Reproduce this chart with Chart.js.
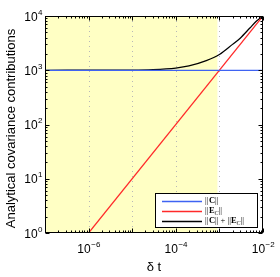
<!DOCTYPE html>
<html>
<head>
<meta charset="utf-8">
<script src="https://cdn.jsdelivr.net/npm/chart.js@4"></script>
<style>
  html, body { margin: 0; padding: 0; background: #fff; }
  #wrap { width: 280px; height: 277px; position: relative; }
</style>
</head>
<body>
<div id="wrap"><canvas id="cov"></canvas></div>
<script>
// values
const normC_dt = [1e-7, 1e-2];
const normC = [1000, 1000];

const normE_dt = [1e-6, 1e-2];
const normE = [1, 10000];

const sum_dt = [1e-7, 1e-5, 3e-5, 1e-4, 2e-4, 5e-4, 1e-3, 2e-3, 3e-3, 5e-3, 7e-3, 1e-2];
const sumCE = [1000, 1010, 1030, 1100, 1200, 1500, 1950, 3000, 3900, 6000, 8000, 10000];

const stableRange = [1e-7, 9e-4];   // shaded band
const xTickExps = [-6, -4, -2];
const yTickExps = [0, 1, 2, 3, 4];
const xGridExps = [-6, -5, -4, -3];

const toPts = (xs, ys) => xs.map((x, i) => ({ x: x, y: ys[i] }));

const FONT = "'Liberation Sans', Arial, sans-serif";
const SERIF = "'Liberation Serif', 'Times New Roman', serif";

// draws 10^n with a raised exponent
function drawPow(ctx, exp, x, y, align) {
    const base = '10', sup = String(exp).replace('-', '\u2212');
    ctx.font = '12px ' + FONT;
    const wb = ctx.measureText(base).width;
    ctx.font = '8px ' + FONT;
    const ws = ctx.measureText(sup).width;
    let left = align === 'right' ? x - wb - ws : x - (wb + ws) / 2;
    ctx.textAlign = 'left';
    ctx.textBaseline = 'alphabetic';
    ctx.font = '12px ' + FONT;
    ctx.fillText(base, left, y);
    ctx.font = '8px ' + FONT;
    ctx.fillText(sup, left + wb + 0.5, y - 6);
}

// pieces: [text, style] where style is '', 'b', 'sub'
function drawRich(ctx, pieces, x, y) {
    ctx.textAlign = 'left';
    ctx.textBaseline = 'middle';
    pieces.forEach(p => {
        const t = p[0], s = p[1];
        if (s === 'b') ctx.font = 'bold 8.5px ' + SERIF;
        else if (s === 'sub') ctx.font = 'italic 6px ' + SERIF;
        else ctx.font = '8.5px ' + SERIF;
        ctx.fillText(t, x, s === 'sub' ? y + 2 : y);
        x += ctx.measureText(t).width + (t === '||' ? 0.5 : 0);
    });
}

const decor = {
    id: 'decor',
    beforeDatasetsDraw(chart) {
        const { ctx, chartArea: a, scales: { x, y } } = chart;
        ctx.save();
        // shaded band
        ctx.fillStyle = '#ffffc4';
        const x0 = x.getPixelForValue(stableRange[0]);
        const x1 = x.getPixelForValue(stableRange[1]);
        ctx.fillRect(x0, a.top, x1 - x0, a.bottom - a.top);
        // dotted vertical grid
        ctx.strokeStyle = '#b8b8b8';
        ctx.lineWidth = 1;
        ctx.setLineDash([1, 4]);
        xGridExps.forEach(e => {
            const px = Math.round(x.getPixelForValue(Math.pow(10, e))) + 0.5;
            ctx.beginPath();
            ctx.moveTo(px, a.top);
            ctx.lineTo(px, a.bottom);
            ctx.stroke();
        });
        ctx.restore();
    },
    afterDatasetsDraw(chart) {
        const { ctx, chartArea: a, scales: { x, y } } = chart;
        ctx.save();
        ctx.strokeStyle = '#000';
        ctx.lineWidth = 1;
        ctx.setLineDash([]);
        const L = Math.round(a.left) + 0.5, R = Math.round(a.right) - 0.5;
        const T = Math.round(a.top) + 0.5, B = Math.round(a.bottom) - 0.5;
        ctx.strokeRect(L, T, R - L, B - T);

        // inward ticks, majors and minors on all four sides
        ctx.beginPath();
        for (let e = -7; e <= -2; e++) {
            for (let m = 1; m <= 9; m++) {
                const v = m * Math.pow(10, e);
                if (v > 1e-2 * 1.0001) break;
                const px = Math.round(x.getPixelForValue(v)) + 0.5;
                const len = m === 1 ? 4 : 2;
                ctx.moveTo(px, B); ctx.lineTo(px, B - len);
                ctx.moveTo(px, T); ctx.lineTo(px, T + len);
            }
        }
        for (let e = 0; e <= 4; e++) {
            for (let m = 1; m <= 9; m++) {
                const v = m * Math.pow(10, e);
                if (v > 1e4 * 1.0001) break;
                const py = Math.round(y.getPixelForValue(v)) + 0.5;
                const len = m === 1 ? 4 : 2;
                ctx.moveTo(L, py); ctx.lineTo(L + len, py);
                ctx.moveTo(R, py); ctx.lineTo(R - len, py);
            }
        }
        ctx.stroke();

        // tick labels
        ctx.fillStyle = '#000';
        xTickExps.forEach(e => {
            drawPow(ctx, e, x.getPixelForValue(Math.pow(10, e)), a.bottom + 20, 'center');
        });
        yTickExps.forEach(e => {
            drawPow(ctx, e, a.left - 3, y.getPixelForValue(Math.pow(10, e)) + 4.5, 'right');
        });

        // axis titles
        ctx.font = '13px ' + FONT;
        ctx.textAlign = 'center';
        ctx.textBaseline = 'alphabetic';
        ctx.fillText('\u03b4 t', (a.left + a.right) / 2, 271);
        ctx.save();
        ctx.translate(15, (a.top + a.bottom) / 2 + 4);
        ctx.rotate(-Math.PI / 2);
        ctx.fillText('Analytical covariance contributions', 0, 0);
        ctx.restore();

        // legend box
        const bx = 155.5, by = 193.5, bw = 102, bh = 34;
        ctx.fillStyle = '#fff';
        ctx.fillRect(bx, by, bw, bh);
        ctx.strokeStyle = '#000';
        ctx.strokeRect(bx, by, bw, bh);
        const rows = [
            ['#3f63f2', [['||', ''], ['C', 'b'], ['||', '']]],
            ['#ff2a2a', [['||', ''], ['E', 'b'], ['C', 'sub'], ['||', '']]],
            ['#000000', [['||', ''], ['C', 'b'], ['|| + ||', ''], ['E', 'b'], ['C', 'sub'], ['||', '']]]
        ];
        rows.forEach((r, i) => {
            const ry = by + 7.5 + i * 10;
            ctx.strokeStyle = r[0];
            ctx.lineWidth = 1.3;
            ctx.beginPath();
            ctx.moveTo(162, Math.round(ry) + 0.5);
            ctx.lineTo(202, Math.round(ry) + 0.5);
            ctx.stroke();
            ctx.fillStyle = '#000';
            drawRich(ctx, r[1], 205, ry);
        });
        ctx.restore();
    }
};

const hiddenAxis = (min, max) => ({
    type: 'logarithmic',
    min: min,
    max: max,
    ticks: { display: false },
    grid: { display: false, drawTicks: false },
    border: { display: false }
});

new Chart(document.getElementById('cov'), {
    type: 'line',
    data: {
        datasets: [
            { label: '||C||', data: toPts(normC_dt, normC), borderColor: '#3f63f2' },
            { label: '||E_C||', data: toPts(normE_dt, normE), borderColor: '#ff2a2a' },
            { label: '||C|| + ||E_C||', data: toPts(sum_dt, sumCE), borderColor: '#000000', cubicInterpolationMode: 'monotone' }
        ]
    },
    options: {
        responsive: true,
        maintainAspectRatio: false,
        animation: false,
        events: [],
        layout: { padding: { left: 45, top: 16, right: 17, bottom: 44 } },
        elements: {
            point: { radius: 0 },
            line: { borderWidth: 1.25 }
        },
        scales: {
            x: hiddenAxis(1e-7, 1e-2),
            y: hiddenAxis(1, 1e4)
        },
        plugins: {
            legend: { display: false },
            tooltip: { enabled: false }
        }
    },
    plugins: [decor]
});
</script>
</body>
</html>
